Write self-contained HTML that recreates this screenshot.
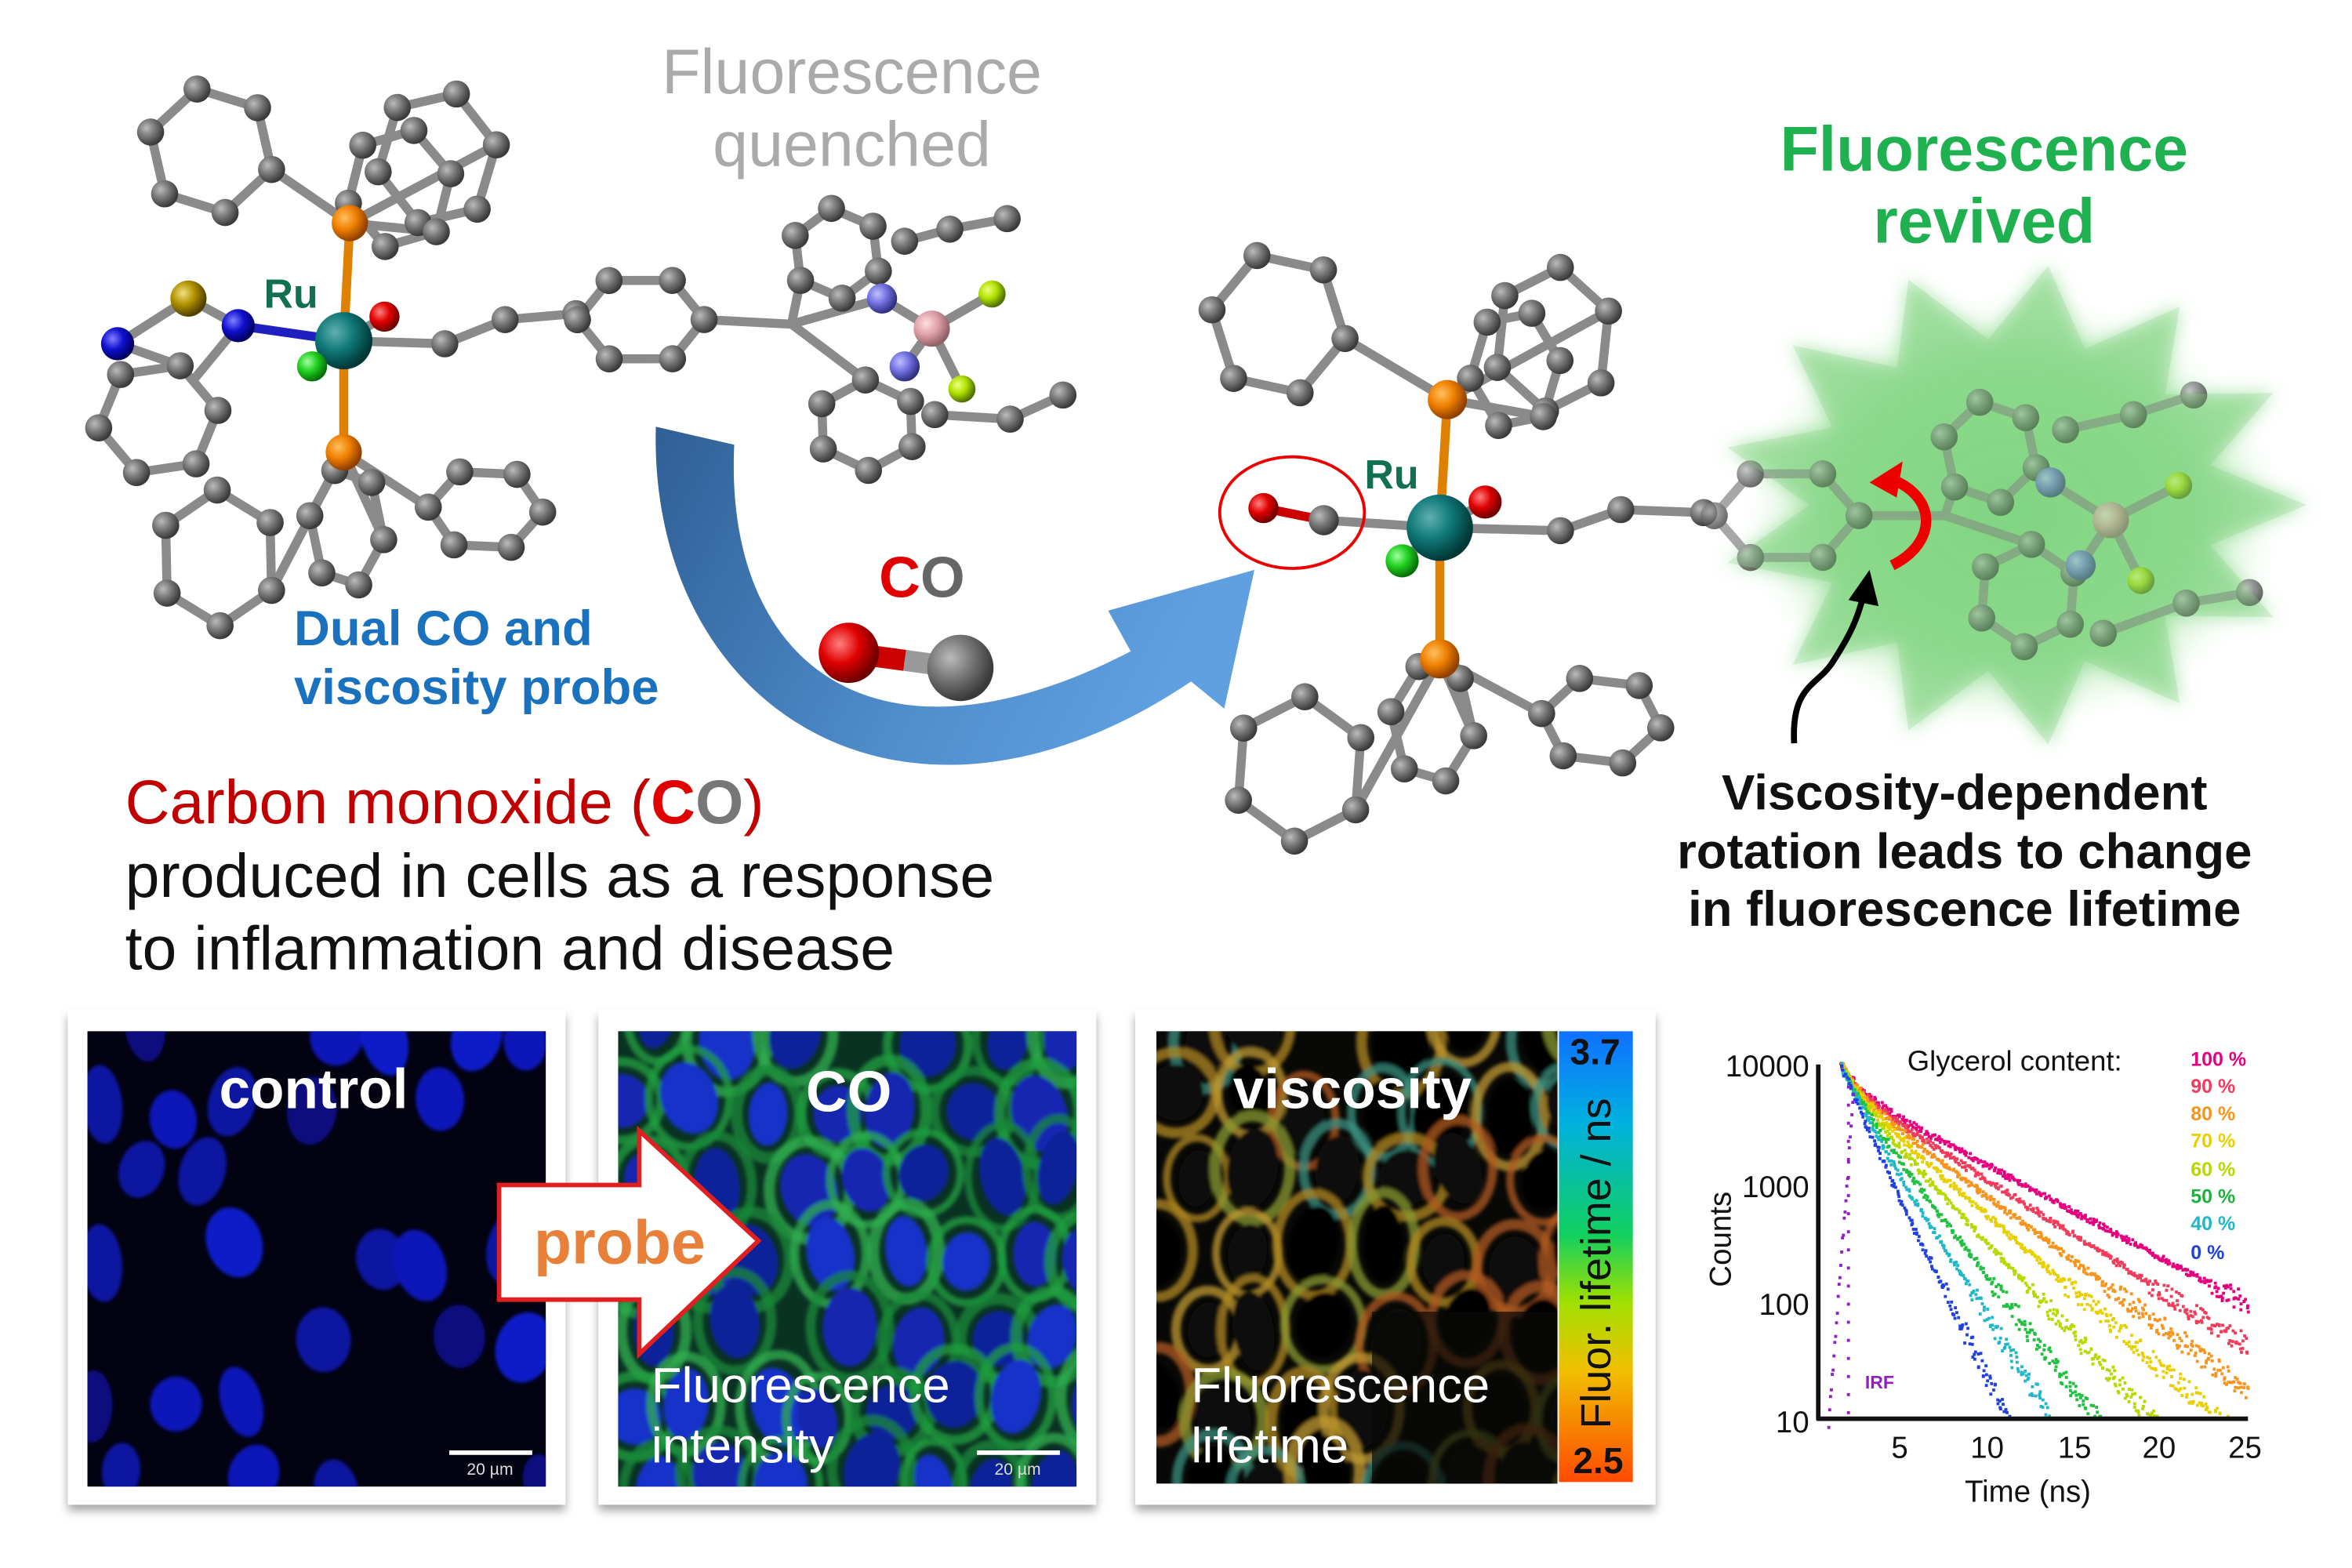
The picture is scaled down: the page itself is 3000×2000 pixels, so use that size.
<!DOCTYPE html>
<html><head><meta charset="utf-8"><style>
html,body{margin:0;padding:0;background:#fff;}
svg{display:block;}
text{font-family:"Liberation Sans",sans-serif;}
</style></head><body>
<svg id="s" width="3000" height="2000" viewBox="0 0 1560 1040" xmlns="http://www.w3.org/2000/svg">
<defs>
<radialGradient id="gG" cx="35%" cy="35%" r="65%"><stop offset="0" stop-color="#bbb"/><stop offset="0.5" stop-color="#777"/><stop offset="1" stop-color="#3a3a3a"/></radialGradient>
<radialGradient id="gR" cx="35%" cy="35%" r="65%"><stop offset="0" stop-color="#ff8080"/><stop offset="0.5" stop-color="#e00000"/><stop offset="1" stop-color="#700000"/></radialGradient>
<radialGradient id="gO" cx="35%" cy="35%" r="65%"><stop offset="0" stop-color="#ffc060"/><stop offset="0.5" stop-color="#f08000"/><stop offset="1" stop-color="#904000"/></radialGradient>
<radialGradient id="gT" cx="35%" cy="35%" r="65%"><stop offset="0" stop-color="#60b0b0"/><stop offset="0.5" stop-color="#107878"/><stop offset="1" stop-color="#003838"/></radialGradient>
<radialGradient id="gC" cx="35%" cy="35%" r="65%"><stop offset="0" stop-color="#a0ffa0"/><stop offset="0.5" stop-color="#20d020"/><stop offset="1" stop-color="#087008"/></radialGradient>
<radialGradient id="gN" cx="35%" cy="35%" r="65%"><stop offset="0" stop-color="#8080ff"/><stop offset="0.5" stop-color="#1010d0"/><stop offset="1" stop-color="#000060"/></radialGradient>
<radialGradient id="gNl" cx="35%" cy="35%" r="65%"><stop offset="0" stop-color="#c0c0ff"/><stop offset="0.5" stop-color="#7070e0"/><stop offset="1" stop-color="#303080"/></radialGradient>
<radialGradient id="gS" cx="35%" cy="35%" r="65%"><stop offset="0" stop-color="#f0e080"/><stop offset="0.5" stop-color="#b09000"/><stop offset="1" stop-color="#504000"/></radialGradient>
<radialGradient id="gB" cx="35%" cy="35%" r="65%"><stop offset="0" stop-color="#ffe0e0"/><stop offset="0.5" stop-color="#e0a0a8"/><stop offset="1" stop-color="#906068"/></radialGradient>
<radialGradient id="gF" cx="35%" cy="35%" r="65%"><stop offset="0" stop-color="#f0ff80"/><stop offset="0.5" stop-color="#b0e000"/><stop offset="1" stop-color="#507000"/></radialGradient>
<radialGradient id="glow" cx="50%" cy="50%" r="50%"><stop offset="0" stop-color="#7fd67f" stop-opacity="0.95"/><stop offset="0.7" stop-color="#9be09b" stop-opacity="0.75"/><stop offset="1" stop-color="#c8f0c8" stop-opacity="0"/></radialGradient>
<linearGradient id="arr" x1="0" y1="0" x2="1" y2="0.3"><stop offset="0" stop-color="#2f5f95"/><stop offset="0.6" stop-color="#4f8ccc"/><stop offset="1" stop-color="#5fa0e0"/></linearGradient>
<linearGradient id="cbar" x1="0" y1="0" x2="0" y2="1"><stop offset="0" stop-color="#1070ff"/><stop offset="0.2" stop-color="#00b0e0"/><stop offset="0.45" stop-color="#10d060"/><stop offset="0.6" stop-color="#a0e000"/><stop offset="0.75" stop-color="#f0c000"/><stop offset="1" stop-color="#ff4a00"/></linearGradient>
<filter id="sh" x="-10%" y="-10%" width="120%" height="125%"><feDropShadow dx="0" dy="4" stdDeviation="3" flood-color="#000" flood-opacity="0.35"/></filter>
<filter id="bl"><feGaussianBlur stdDeviation="6"/></filter>
<filter id="bl2"><feGaussianBlur stdDeviation="1.2"/></filter>
<clipPath id="c1"><rect x="58" y="684" width="304" height="302"/></clipPath>
<clipPath id="c2"><rect x="410" y="684" width="304" height="302"/></clipPath>
<clipPath id="c3"><rect x="767" y="684" width="266" height="300"/></clipPath>
</defs>
<rect width="1560" height="1040" fill="#fff"/>
<g id="mol"></g>

<text x="565" y="62" font-size="42" fill="#aaa" text-anchor="middle">Fluorescence</text>
<text x="565" y="110" font-size="42" fill="#aaa" text-anchor="middle">quenched</text>
<text x="1316" y="113" font-size="42" font-weight="bold" fill="#1fb050" text-anchor="middle">Fluorescence</text>
<text x="1316" y="161" font-size="42" font-weight="bold" fill="#1fb050" text-anchor="middle">revived</text>
<text x="195" y="428" font-size="33" font-weight="bold" fill="#1a72bf">Dual CO and</text>
<text x="195" y="467" font-size="33" font-weight="bold" fill="#1a72bf">viscosity probe</text>
<text x="83" y="546" font-size="41" fill="#c00000">Carbon monoxide (<tspan font-weight="bold" fill="#e00000">C</tspan><tspan font-weight="bold" fill="#777">O</tspan>)</text>
<text x="83" y="595" font-size="41" fill="#111">produced in cells as a response</text>
<text x="83" y="643" font-size="41" fill="#111">to inflammation and disease</text>
<text x="583" y="396" font-size="38" font-weight="bold" fill="#e00000">C<tspan fill="#666">O</tspan></text>
<text x="1303" y="537" font-size="33" font-weight="bold" fill="#111" text-anchor="middle">Viscosity-dependent</text>
<text x="1303" y="576" font-size="33" font-weight="bold" fill="#111" text-anchor="middle">rotation leads to change</text>
<text x="1303" y="614" font-size="33" font-weight="bold" fill="#111" text-anchor="middle">in fluorescence lifetime</text>
<text x="175" y="204" font-size="27" font-weight="bold" fill="#107050">Ru</text>
<text x="905" y="324" font-size="27" font-weight="bold" fill="#107050">Ru</text>

<path d="M435,283 L487,295 C480,440 580,520 750,432 L735,405 L832,378 L812,470 L790,452 C600,580 430,470 435,283 Z" fill="url(#arr)"/>
<line x1="563" y1="433" x2="637" y2="443" stroke="#999" stroke-width="14"/>
<line x1="563" y1="433" x2="600" y2="438" stroke="#c00" stroke-width="14"/>
<circle cx="563" cy="433" r="20" fill="url(#gR)"/>
<circle cx="637" cy="443" r="22" fill="url(#gG)"/>
<ellipse cx="857" cy="340" rx="48" ry="37" fill="none" stroke="#e00" stroke-width="2"/>
<path d="M1190,493 C1188,455 1205,455 1215,440 C1228,420 1232,410 1236,395" fill="none" stroke="#000" stroke-width="4"/>
<path d="M1226,398 L1240,378 L1246,402 Z" fill="#000"/>
<path d="M1255,318 C1285,330 1285,360 1255,375" fill="none" stroke="#e00" stroke-width="7"/>
<path d="M1240,320 L1262,306 L1258,330 Z" fill="#e00"/>

<rect x="45" y="670" width="330" height="328" fill="#fff" filter="url(#sh)"/>
<rect x="397" y="670" width="330" height="328" fill="#fff" filter="url(#sh)"/>
<rect x="753" y="670" width="345" height="328" fill="#fff" filter="url(#sh)"/>
<rect x="58" y="684" width="304" height="302" fill="#020210"/>
<rect x="410" y="684" width="304" height="302" fill="#04102a"/>
<rect x="767" y="684" width="266" height="300" fill="#080806"/>
<g id="p1" clip-path="url(#c1)"></g>
<g id="p2" clip-path="url(#c2)"></g>
<g id="p3" clip-path="url(#c3)"></g>
<rect x="1034" y="684" width="49" height="299" fill="url(#cbar)"/>
<text x="1058" y="706" font-size="24" font-weight="bold" fill="#111" text-anchor="middle">3.7</text>
<text x="1060" y="977" font-size="24" font-weight="bold" fill="#111" text-anchor="middle">2.5</text>
<text transform="translate(1068,838) rotate(-90)" font-size="28" fill="#111" text-anchor="middle">Fluor. lifetime / ns</text>

<text x="208" y="735" font-size="37" font-weight="bold" fill="#fff" text-anchor="middle">control</text>
<rect x="298" y="962" width="55" height="3" fill="#fff"/>
<text x="325" y="978" font-size="11" fill="#ddd" text-anchor="middle">20 µm</text>
<text x="563" y="737" font-size="38" font-weight="bold" fill="#fff" text-anchor="middle">CO</text>
<text x="432" y="930" font-size="33" fill="#fff">Fluorescence</text>
<text x="432" y="970" font-size="33" fill="#fff">intensity</text>
<rect x="648" y="962" width="55" height="3" fill="#fff"/>
<text x="675" y="978" font-size="11" fill="#ddd" text-anchor="middle">20 µm</text>
<text x="897" y="735" font-size="37" font-weight="bold" fill="#fff" text-anchor="middle">viscosity</text>
<text x="790" y="930" font-size="33" fill="#fff">Fluorescence</text>
<text x="790" y="970" font-size="33" fill="#fff">lifetime</text>

<path d="M331,786 L424,786 L424,750 L503,823 L424,898 L424,862 L331,862 Z" fill="#fff" stroke="#e02020" stroke-width="3"/>
<text x="411" y="838" font-size="41" font-weight="bold" fill="#e8803a" text-anchor="middle">probe</text>

<g id="chart"></g>
<line x1="1206" y1="706" x2="1206" y2="942" stroke="#111" stroke-width="3"/>
<line x1="1205" y1="941" x2="1491" y2="941" stroke="#111" stroke-width="3"/>
<g font-size="20" fill="#111" text-anchor="end">
<text x="1200" y="714">10000</text><text x="1200" y="794">1000</text><text x="1200" y="872">100</text><text x="1200" y="950">10</text></g>
<g font-size="20" fill="#111" text-anchor="middle">
<text x="1260" y="967">5</text><text x="1318" y="967">10</text><text x="1376" y="967">15</text><text x="1432" y="967">20</text><text x="1489" y="967">25</text>
<text x="1345" y="996">Time (ns)</text></g>
<text transform="translate(1148,822) rotate(-90)" font-size="20" fill="#111" text-anchor="middle">Counts</text>
<text x="1265" y="710" font-size="19" fill="#111">Glycerol content:</text>
<g font-size="13" font-weight="bold">
<text x="1453" y="707" fill="#e6007e">100 %</text><text x="1453" y="725" fill="#f03c5a">90 %</text>
<text x="1453" y="743" fill="#f7941d">80 %</text><text x="1453" y="761" fill="#e8d000">70 %</text>
<text x="1453" y="780" fill="#b8d800">60 %</text><text x="1453" y="798" fill="#20b040">50 %</text>
<text x="1453" y="816" fill="#20b8c8">40 %</text><text x="1453" y="835" fill="#2040e0">0 %</text></g>
<text x="1237" y="921" font-size="12" font-weight="bold" fill="#9020c0">IRF</text>
</svg>
<script>
var NS="http://www.w3.org/2000/svg";
function el(p,t,a){var e=document.createElementNS(NS,t);for(var k in a)e.setAttribute(k,a[k]);p.appendChild(e);return e;}
var rnd=(function(){var s=7;return function(){s=(s*16807)%2147483647;return s/2147483647;};})();
var mol=document.getElementById('mol');
var bonds=el(mol,'g',{}),atoms=el(mol,'g',{});
var g=el(bonds,'g',{filter:'url(#bl)'});
var pts=[];for(var i=0;i<26;i++){var a=i*Math.PI/13,r=(i%2?135:195);pts.push((1335+r*Math.cos(a))+','+(335+r*0.82*Math.sin(a)));}
el(g,'ellipse',{cx:1335,cy:340,rx:175,ry:140,fill:'url(#glow)'});
el(g,'polygon',{points:pts.join(' '),fill:'#86d886','fill-opacity':0.7});
function B(a,b,c){el(bonds,'line',{x1:a[0],y1:a[1],x2:b[0],y2:b[1],stroke:c||'#8a8a8a','stroke-width':6,'stroke-linecap':'round'});}
function A(p,r,f){el(atoms,'circle',{cx:p[0],cy:p[1],r:r||9,fill:'url(#'+(f||'gG')+')'});}
function ring(cx,cy,rx,ry,rot,link){var p=[];for(var i=0;i<6;i++){var a=rot+i*Math.PI/3;p.push([cx+rx*Math.cos(a),cy+ry*Math.sin(a)]);}
for(i=0;i<6;i++)B(p[i],p[(i+1)%6]);if(link)B(link,p[0]);for(i=0;i<6;i++)A(p[i]);return p;}
function chain(arr,c){for(var i=0;i<arr.length-1;i++)B(arr[i],arr[i+1],c);for(i=0;i<arr.length;i++)A(arr[i]);}
var Ru=[228,226],P1=[232,148],P2=[228,300];
B(Ru,P1,'#e08000');B(Ru,P2,'#e08000');
ring(140,100,42,42,0.3,P1);ring(290,105,40,45,-0.2,P1);ring(265,125,35,40,0.8,P1);
ring(145,370,40,45,0.5,P2);ring(230,350,25,40,0.2,P2);ring(322,338,38,28,3.2,P2);
B(Ru,[158,216],'#2020c0');B([158,216],[125,198]);B([125,198],[78,228]);
ring(105,278,40,38,-1.2,[78,228]);B([158,216],[130,250]);
B(Ru,[255,210]);B(Ru,[207,243]);
chain([Ru,[295,228],[335,212],[382,208]]);ring(425,212,42,30,3.14,null);
B([467,212],[525,215]);
ring(555,168,30,30,2.5,[525,215]);ring(575,282,34,30,-1.6,[525,215]);
B([525,215],[585,198]);B([585,198],[618,218]);B([618,218],[600,243]);B([618,218],[658,195]);B([618,218],[638,258]);
chain([[600,160],[630,152],[668,145]]);chain([[620,275],[670,278],[705,262]]);
A([125,198],12,'gS');A([78,228],11,'gN');A([158,216],11,'gN');
A(Ru,19,'gT');A([255,210],10,'gR');A([207,243],10,'gC');A(P1,12,'gO');A(P2,12,'gO');
A([585,198],10,'gNl');A([600,243],10,'gNl');A([618,218],12,'gB');A([658,195],9,'gF');A([638,258],9,'gF');
var R2=[955,350],Q1=[960,265],Q2=[955,437];
B(R2,Q1,'#e08000');B(R2,Q2,'#e08000');
ring(848,215,45,48,0.2,Q1);ring(1030,225,40,48,-0.4,Q1);ring(1005,245,30,40,0.9,Q1);
ring(862,510,45,48,0.6,Q2);ring(950,480,28,40,0.2,Q2);ring(1062,478,40,30,3.3,Q2);
B(R2,[878,345]);B([878,345],[838,337],'#c00');A([838,337],10,'gR');A([878,345],10);
B(R2,[985,333]);B(R2,[930,372]);
chain([R2,[1035,352],[1075,338],[1130,340]]);
var bg=el(mol,'g',{opacity:0.75});
var saveB=bonds,saveA=atoms;bonds=el(bg,'g',{});atoms=el(bg,'g',{});
ring(1185,342,48,32,3.14,null);
B([1233,342],[1290,342]);
ring(1320,300,32,34,2.4,[1290,342]);ring(1345,395,34,34,-1.5,[1290,342]);
B([1360,320],[1400,345]);B([1400,345],[1380,375]);B([1400,345],[1445,322]);B([1400,345],[1420,385]);
chain([[1370,285],[1415,275],[1455,262]]);chain([[1395,420],[1450,400],[1492,393]]);
A([1360,320],10,'gNl');A([1380,375],10,'gNl');A([1400,345],12,'gB');A([1445,322],9,'gF');A([1420,385],9,'gF');
bonds=saveB;atoms=saveA;
el(bg,'polygon',{points:pts.join(' '),fill:'#70c870','fill-opacity':0.3});
A(R2,22,'gT');A([985,333],11,'gR');A([930,372],11,'gC');A(Q1,13,'gO');A(Q2,13,'gO');

var p1=document.getElementById('p1'),p2=document.getElementById('p2'),p3=document.getElementById('p3');
function cells(p,x0,y0,nuc,ring_,sw,prob){
 var gg=el(p,'g',{filter:'url(#bl2)'});
 for(var y=y0-10;y<y0+320;y+=50)for(var x=x0-10;x<x0+320;x+=44){
  if(rnd()>prob)continue;
  var cx=x+rnd()*20+((y/50)%2)*20,cy=y+rnd()*20,rx=12+rnd()*7,ry=18+rnd()*9;
  if(ring_)el(gg,'ellipse',{cx:cx,cy:cy,rx:rx+8,ry:ry+8,fill:'none',stroke:ring_[Math.floor(rnd()*ring_.length)],'stroke-width':sw+rnd()*3,'stroke-opacity':0.75});
  el(gg,'ellipse',{cx:cx,cy:cy,rx:rx,ry:ry,fill:nuc[Math.floor(rnd()*nuc.length)],transform:'rotate('+(rnd()*40-20)+' '+cx+' '+cy+')'});
 }}
cells(p1,58,684,['#0a12a0','#0c18b8','#080e80','#0e1cc8'],null,0,0.75);
el(p2,'rect',{x:410,y:684,width:304,height:302,fill:'#0a3222'});
cells(p2,410,684,['#1228b0','#1430c8','#0e2098'],['#20a040','#30b050','#188a38'],5,0.95);
cells(p3,767,684,['#060606','#0a0a08'],['#b08820','#c09a30','#3a9080','#b05a20','#8a9a30'],5,0.95);
el(p3,'rect',{x:910,y:870,width:123,height:120,fill:'#080806','fill-opacity':0.7});
var ch=document.getElementById('chart');
var cols=['#e6007e','#f03c5a','#f7941d','#e8d000','#b8d800','#20c040','#20b8c8','#2040e0'];
var taus=[5.6,4.7,4.0,3.4,2.8,2.3,1.9,1.5];
for(var k=0;k<8;k++){for(var t=1.2;t<25;t+=0.06){var dt=t-1.2;
 var v=0.35*Math.exp(-dt/0.9)+0.65*Math.exp(-dt/taus[k]);
 var yy=706-Math.log10(v)*78;
 yy+=(rnd()-0.5)*(yy>850?14:4);if(yy>940)continue;
 el(ch,'rect',{x:1206+t*11.35+rnd()*2,y:yy,width:2,height:2,fill:cols[k]});}}
for(var t=0;t<1.5;t+=0.05){el(ch,'rect',{x:1212+t*11.35,y:940-t*150+rnd()*6,width:2,height:2,fill:'#9020c0'});}
for(var y=720;y<940;y+=12)el(ch,'rect',{x:1225,y:y,width:2,height:2,fill:'#9020c0'});
</script>
</body></html>
